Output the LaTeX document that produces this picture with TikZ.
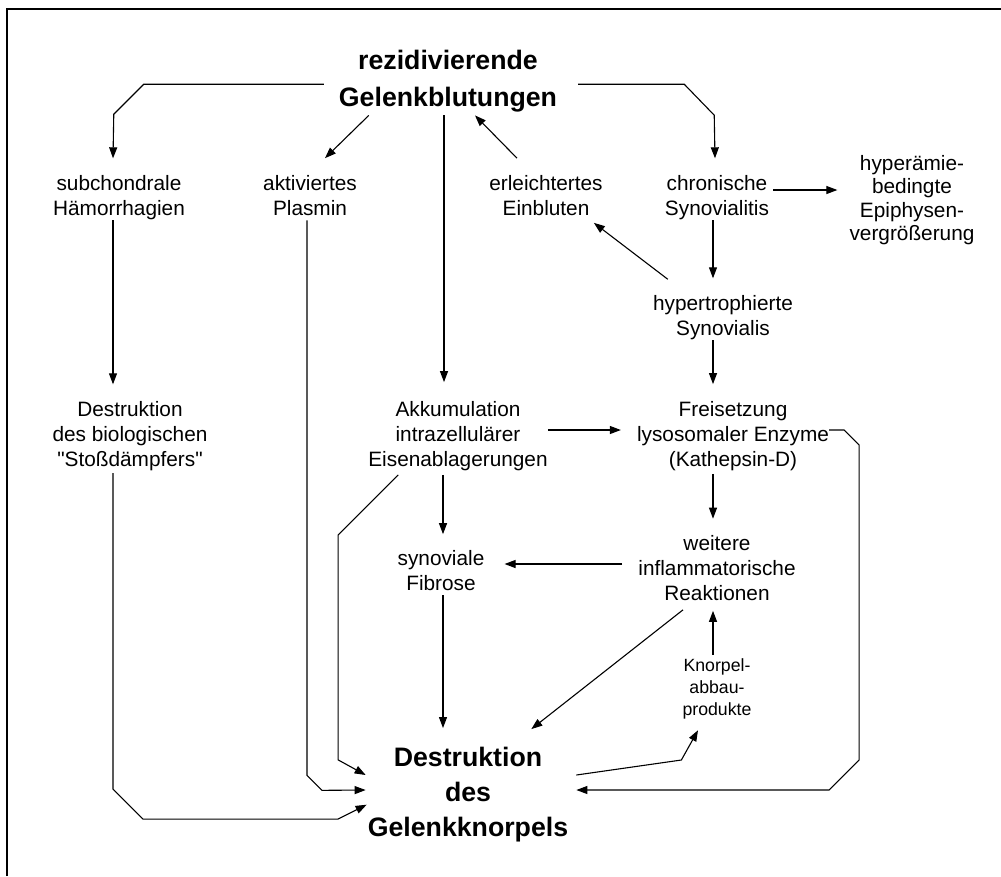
\documentclass[tikz,border=0pt]{standalone}
\usepackage{fontspec}
\setmainfont{Liberation Sans}
\usetikzlibrary{arrows.meta}

\tikzset{
	txt/.style={align=center, inner sep=0pt, font=\fontsize{20.8}{25}\selectfont},
	hyp/.style={align=center, inner sep=0pt, font=\fontsize{20.8}{23.3}\selectfont},
	small/.style={align=center, inner sep=0pt, font=\fontsize{17.7}{22}\selectfont},
	head/.style={align=center, inner sep=0pt, font=\bfseries\fontsize{26.7}{37}\selectfont},
	goal/.style={align=center, inner sep=0pt, font=\bfseries\fontsize{26.7}{35}\selectfont},
	arr/.style={-{Triangle[length=11pt,width=8pt]}, line width=1.1pt},
}

\begin{document}
\begin{tikzpicture}[x=1pt, y=-1pt]

	\useasboundingbox (0,0) rectangle (1001,876);

	% Frame
	\draw[line width=1.6pt] (7,876) -- (7,9) -- (1001,9);

	% Nodes
	\node[head] (blut) at (448,81.2) {rezidivierende\\Gelenkblutungen};

	\node[txt] (subch) at (119,197.7) {subchondrale\\Hämorrhagien};
	\node[txt] (plasmin) at (310,195.5) {aktiviertes\\Plasmin};
	\node[txt] (einbl) at (546,195.5) {erleichtertes\\Einbluten};
	\node[txt] (chron) at (717,197.7) {chronische\\Synovialitis};
	\node[hyp] (epiph) at (912,200.2) {hyperämie-\\bedingte\\Epiphysen-\\vergrößerung};

	\node[txt] (hypertr) at (723,317.7) {hypertrophierte\\Synovialis};

	\node[txt] (stoss) at (130,436.2) {Destruktion\\des biologischen\\\textquotedbl Stoßdämpfers\textquotedbl};
	\node[txt] (eisen) at (458,436) {Akkumulation\\intrazellulärer\\Eisenablagerungen};
	\node[txt] (enzym) at (733,436) {Freisetzung\\lysosomaler Enzyme\\(Kathepsin-D)};

	\node[txt] (fibr) at (441,570.5) {synoviale\\Fibrose};
	\node[txt] (infl) at (717,568.5) {weitere\\inflammatorische\\Reaktionen};

	\node[small] (abbau) at (717,688.8) {Knorpel-\\abbau-\\produkte};

	\node[goal] (knorpel) at (468,794.7) {Destruktion\\des\\Gelenkknorpels};

	% Arrows from the bleedings
	\draw[arr] ([shift={(-15,3)}]blut.west) -- ++(-180,0) -- ++(-30,30) -- ([shift={(-6,-17)}]subch.north);
	\draw[arr] ([shift={(30,3)}]blut.south west) -- ([shift={(15,-17)}]plasmin.north);
	\draw[arr] ([shift={(-4,3)}]blut.south) -- ([shift={(-14,-19)}]eisen.north);
	\draw[arr] ([shift={(-29,-17)}]einbl.north) -- ([shift={(27,3)}]blut.south);
	\draw[arr] ([shift={(21,3)}]blut.east) -- ++(106,0) -- ++(30,31) -- ([shift={(-2,-17)}]chron.north);

	% Synovialis
	\draw[arr] ([shift={(4,-7.7)}]chron.east) -- ([shift={(-12,-10.2)}]epiph.west);
	\draw[arr] ([shift={(-4,0)}]chron.south) -- ([shift={(-10,-17)}]hypertr.north);
	\draw[arr] ([shift={(15,-16)}]hypertr.north west) -- ([shift={(-9,7)}]einbl.south east);
	\draw[arr] ([shift={(-10,0)}]hypertr.south) -- ([shift={(-20,-17)}]enzym.north);

	% Middle part
	\draw[arr] ([shift={(-6,0)}]subch.south) -- ([shift={(-17,-17)}]stoss.north);
	\draw[arr] ([shift={(0,-6)}]eisen.east) -- ([shift={(-16,-6)}]enzym.west);
	\draw[arr] ([shift={(-20,3)}]enzym.south) -- ([shift={(-4,-17)}]infl.north);
	\draw[arr] ([shift={(-16,-4.5)}]infl.west) -- ([shift={(20,-6.5)}]fibr.east);
	\draw[arr] ([shift={(-15,4)}]eisen.south) -- ([shift={(2,-16)}]fibr.north);
	\draw[arr] ([shift={(-4,-3.5)}]abbau.north) -- ([shift={(-4,9.5)}]infl.south);

	% Into the cartilage
	\draw[arr] ([shift={(2,4.5)}]fibr.south) -- ([shift={(-25,-19)}]knorpel.north);
	\draw[arr] ([shift={(-34,8.5)}]infl.south) -- ([shift={(-37,-18)}]knorpel.north east);
	\draw[arr] ([shift={(8,-19.7)}]knorpel.east) -- ++(105,-15) -- ([shift={(-19,11)}]abbau.south);
	\draw[arr] ([shift={(0,-6)}]enzym.east) -- ++(15,0) -- ++(15,15) -- ++(0,315) -- ++(-30,30) -- ([shift={(8,-4.7)}]knorpel.east);
	\draw[arr] ([shift={(-17,2)}]stoss.south) -- ++(0,316) -- ++(30,30) -- ++(195,0) -- ([shift={(-1,10)}]knorpel.west);
	\draw[arr] ([shift={(-3,4.5)}]plasmin.south) -- ++(0,555) -- ++(15,15) -- ([shift={(-2,-4.7)}]knorpel.west);
	\draw[arr] ([shift={(30,4)}]eisen.south west) -- ++(-60,60) -- ++(0,225) -- ([shift={(-2,-19.7)}]knorpel.west);

\end{tikzpicture}
\end{document}
